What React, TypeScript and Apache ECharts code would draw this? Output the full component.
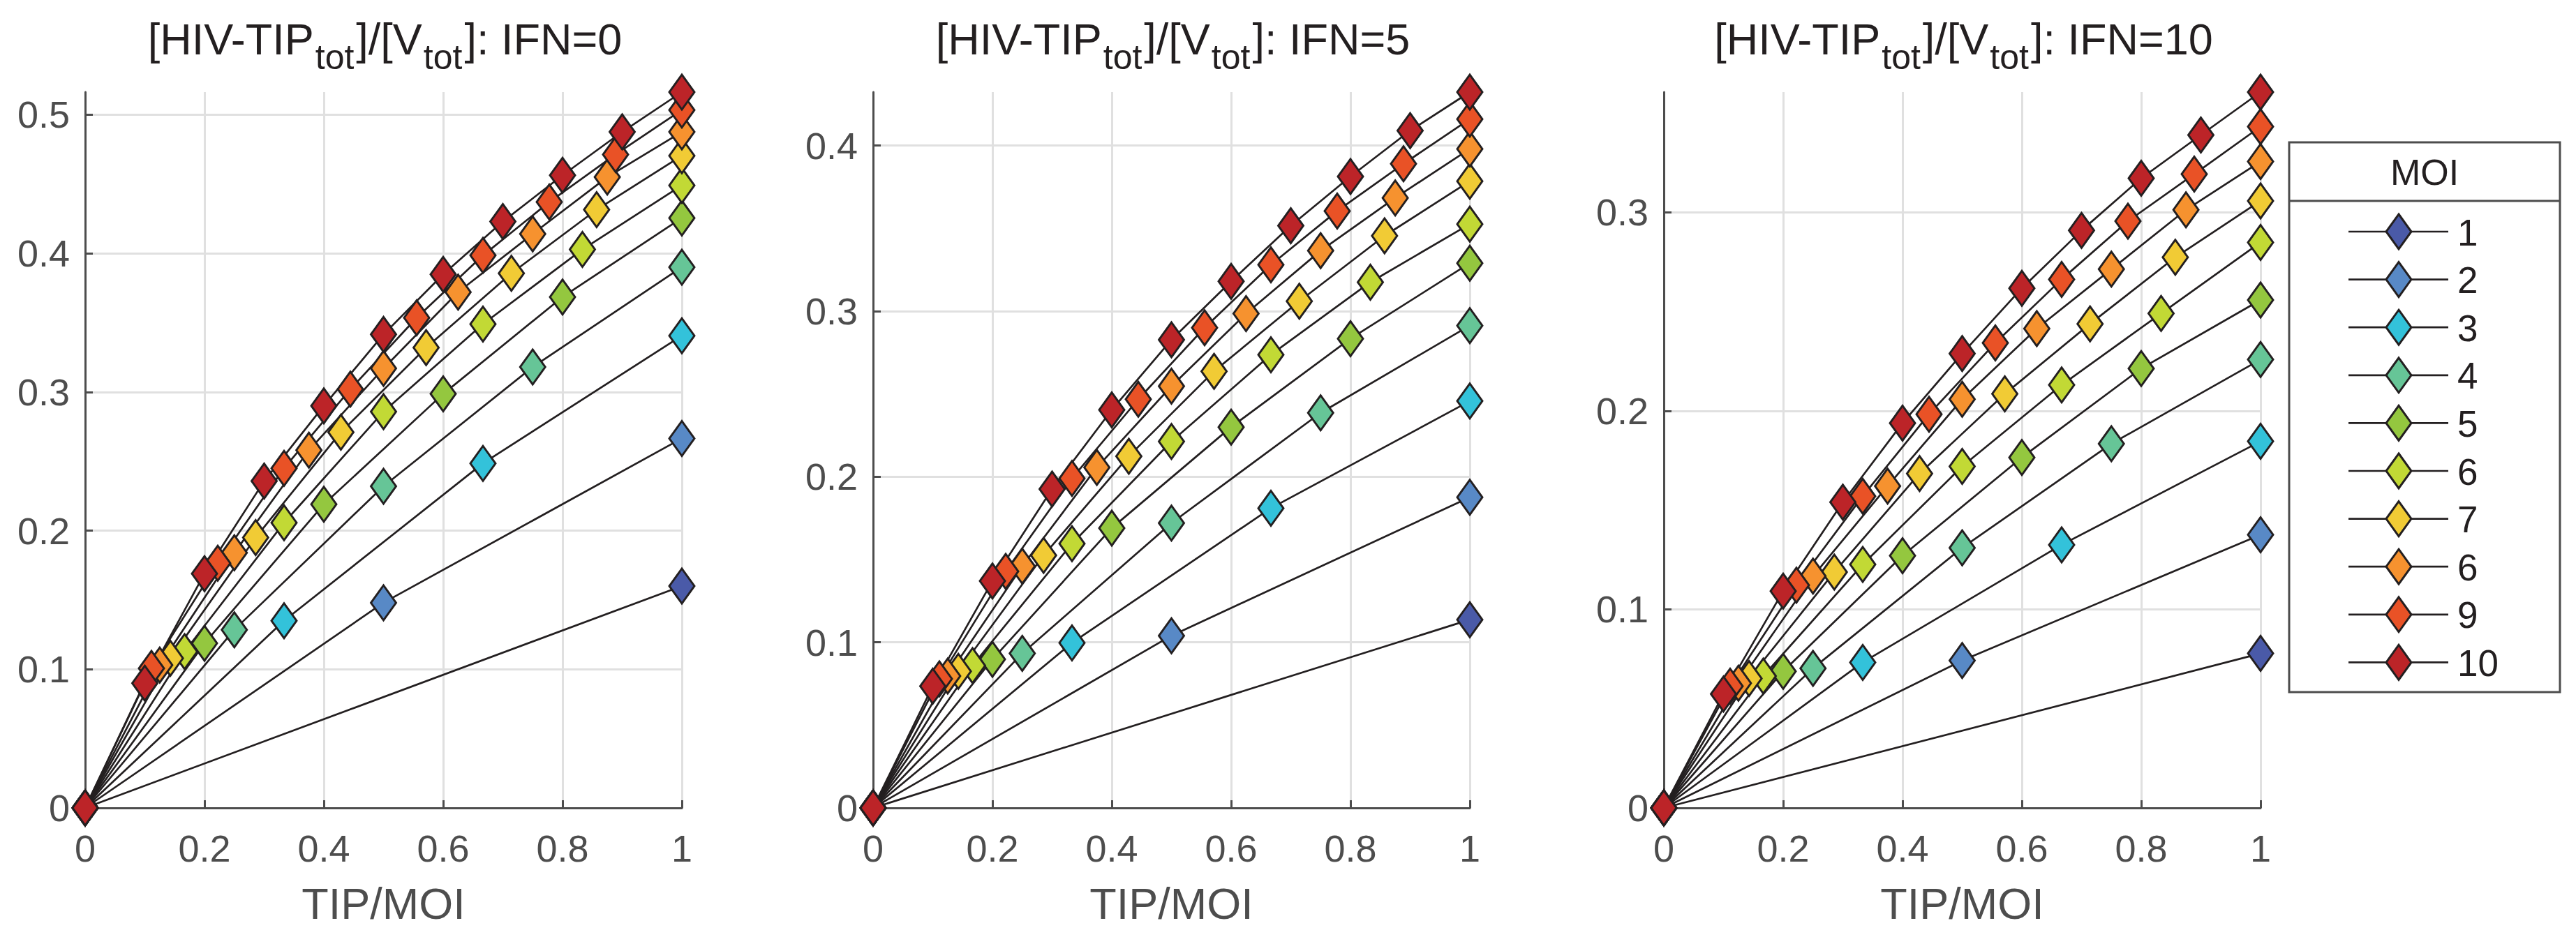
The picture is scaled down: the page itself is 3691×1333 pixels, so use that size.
import React, { useEffect, useRef } from "react";
import * as echarts from "echarts";

// ---------- data ----------
const moiValues = [1, 2, 3, 4, 5, 6, 7, 8, 9, 10];
const legendLabels = ["1", "2", "3", "4", "5", "6", "7", "6", "9", "10"];
const seriesColors = [
  "#4A5AA8", "#5889C6", "#33C2DA", "#66C597", "#94C73F",
  "#C2D935", "#F1CB35", "#F6922F", "#E95226", "#BC2428",
];
const panelIFN = ["IFN=0", "IFN=5", "IFN=10"];
const xAxisName = "TIP/MOI";
const legendTitle = "MOI";

// y values at TIP/MOI = k/MOI, k = 0..MOI
const ifn0: number[][] = [
  [0, 0.160],
  [0, 0.148, 0.2665],
  [0, 0.135, 0.2485, 0.3406],
  [0, 0.1285, 0.232, 0.318, 0.390],
  [0, 0.1187, 0.219, 0.2986, 0.3685, 0.4255],
  [0, 0.1127, 0.2057, 0.2858, 0.349, 0.4028, 0.449],
  [0, 0.108, 0.195, 0.271, 0.332, 0.3856, 0.4315, 0.4704],
  [0, 0.103, 0.184, 0.258, 0.317, 0.372, 0.414, 0.455, 0.4876],
  [0, 0.1007, 0.1765, 0.245, 0.302, 0.3535, 0.3985, 0.437, 0.4713, 0.5034],
  [0, 0.090, 0.169, 0.2357, 0.290, 0.3415, 0.3848, 0.4229, 0.4563, 0.4876, 0.5163],
];
const ifn5: number[][] = [
  [0, 0.1137],
  [0, 0.104, 0.1876],
  [0, 0.0997, 0.181, 0.2457],
  [0, 0.0933, 0.172, 0.2386, 0.2913],
  [0, 0.0897, 0.169, 0.230, 0.2834, 0.329],
  [0, 0.086, 0.1596, 0.2213, 0.2737, 0.3175, 0.3526],
  [0, 0.0825, 0.1525, 0.2124, 0.2637, 0.306, 0.3455, 0.3785],
  [0, 0.0796, 0.146, 0.2056, 0.2547, 0.2985, 0.3365, 0.3684, 0.398],
  [0, 0.078, 0.1428, 0.199, 0.2468, 0.290, 0.328, 0.3605, 0.389, 0.416],
  [0, 0.0735, 0.137, 0.1926, 0.2404, 0.2827, 0.318, 0.3516, 0.3813, 0.409, 0.4323],
];
const ifn10: number[][] = [
  [0, 0.0778],
  [0, 0.0742, 0.1376],
  [0, 0.0733, 0.1325, 0.1846],
  [0, 0.0703, 0.131, 0.1834, 0.2258],
  [0, 0.0688, 0.127, 0.1765, 0.2213, 0.2558],
  [0, 0.0664, 0.1226, 0.172, 0.213, 0.249, 0.2848],
  [0, 0.0652, 0.1188, 0.1684, 0.2085, 0.2438, 0.2773, 0.3057],
  [0, 0.0628, 0.1167, 0.1621, 0.2058, 0.2414, 0.2713, 0.3012, 0.3255],
  [0, 0.0613, 0.1122, 0.157, 0.1983, 0.2342, 0.2662, 0.2955, 0.3192, 0.3431],
  [0, 0.0574, 0.1092, 0.154, 0.1938, 0.2288, 0.2617, 0.2908, 0.3171, 0.3389, 0.3605],
];
const panels = [ifn0, ifn5, ifn10];

// ---------- style / layout ----------
const FONT = '"Liberation Sans", Arial, Helvetica, sans-serif';
const AXIS_COLOR = "#4D4D4D";
const INK = "#231F20";
const GRID_COLOR = "#E0E0E0";
const GRID_LEFTS = [122, 1251, 2384];
const GRID_TOP = 132;
const GRID_W = 855;
const GRID_H = 1026;

function buildOption() {
  const grids = GRID_LEFTS.map((left) => ({
    left,
    top: GRID_TOP,
    width: GRID_W,
    height: GRID_H,
    containLabel: false,
    outerBoundsMode: "none",
  }));

  const axisCommon = {
    axisLine: { show: true, onZero: false, lineStyle: { color: AXIS_COLOR, width: 3 } },
    axisTick: { show: true, inside: true, length: 11, lineStyle: { color: AXIS_COLOR, width: 3 } },
  };

  const xAxes = panels.map((_, p) => ({
    type: "value",
    gridIndex: p,
    min: 0,
    max: 1,
    interval: 0.2,
    name: xAxisName,
    nameLocation: "middle",
    nameGap: 105,
    nameTextStyle: { color: AXIS_COLOR, fontSize: 63, fontFamily: FONT },
    ...axisCommon,
    axisLabel: { color: AXIS_COLOR, fontSize: 54, fontFamily: FONT, margin: 31 },
    splitLine: { show: true, lineStyle: { color: GRID_COLOR, width: 3 } },
  }));

  const yAxes = panels.map((data, p) => {
    const yMax = Math.max(...data.map((s) => Math.max(...s)));
    return {
      type: "value",
      gridIndex: p,
      min: 0,
      max: yMax,
      interval: 0.1,
      ...axisCommon,
      axisLabel: {
        color: AXIS_COLOR,
        fontSize: 54,
        fontFamily: FONT,
        margin: 22,
        showMaxLabel: false,
      },
      splitLine: { show: true, showMaxLine: false, lineStyle: { color: GRID_COLOR, width: 3 } },
    };
  });

  const series: any[] = [];
  panels.forEach((data, p) => {
    data.forEach((ys, i) => {
      const m = moiValues[i];
      series.push({
        type: "line",
        name: String(m),
        xAxisIndex: p,
        yAxisIndex: p,
        data: ys.map((y, k) => [k / m, y]),
        symbol: "diamond",
        symbolSize: [36, 50],
        showAllSymbol: true,
        clip: false,
        silent: true,
        lineStyle: { color: INK, width: 2.7 },
        itemStyle: { color: seriesColors[i], borderColor: INK, borderWidth: 3 },
        emphasis: { disabled: true },
      });
    });
  });

  const titles = panelIFN.map((ifn, p) => ({
    text: `{m|[HIV-TIP}{s|tot}{m|]/[V}{s|tot}{m|]: ${ifn}}`,
    left: GRID_LEFTS[p] + GRID_W / 2 + 2,
    top: 5,
    padding: 0,
    textAlign: "center",
    textVerticalAlign: "top",
    textStyle: {
      fontWeight: "normal",
      fontFamily: FONT,
      color: INK,
      rich: {
        m: { fontSize: 63, fontWeight: "normal", fontFamily: FONT, color: INK, lineHeight: 63 },
        s: {
          fontSize: 50,
          fontWeight: "normal",
          fontFamily: FONT,
          color: INK,
          padding: [52, 3, 0, 2],
        },
      },
    },
  }));

  // legend drawn with graphic elements
  const LX = 3280;
  const LY = 204;
  const LW = 388;
  const LH = 788;
  const rowY0 = 332;
  const rowStep = 68.6;
  const lineX1 = 3365;
  const lineX2 = 3508;
  const diaX = 3437;
  const graphics: any[] = [
    {
      type: "rect",
      shape: { x: LX, y: LY, width: LW, height: LH },
      style: { fill: "#FFFFFF", stroke: AXIS_COLOR, lineWidth: 3 },
      z: 10,
    },
    {
      type: "line",
      shape: { x1: LX, y1: 288, x2: LX + LW, y2: 288 },
      style: { stroke: AXIS_COLOR, lineWidth: 3 },
      z: 11,
    },
    {
      type: "text",
      x: LX + LW / 2,
      y: 247,
      style: {
        text: legendTitle,
        fill: INK,
        fontSize: 52,
        fontFamily: FONT,
        font: `52px ${FONT}`,
        align: "center",
        textAlign: "center",
        verticalAlign: "middle",
        textVerticalAlign: "middle",
      },
      z: 11,
    },
  ];
  legendLabels.forEach((label, i) => {
    const cy = rowY0 + i * rowStep;
    graphics.push({
      type: "line",
      shape: { x1: lineX1, y1: cy, x2: lineX2, y2: cy },
      style: { stroke: INK, lineWidth: 2.7 },
      z: 11,
    });
    graphics.push({
      type: "polygon",
      shape: {
        points: [
          [diaX, cy - 25],
          [diaX + 18, cy],
          [diaX, cy + 25],
          [diaX - 18, cy],
        ],
      },
      style: { fill: seriesColors[i], stroke: INK, lineWidth: 3 },
      z: 12,
    });
    graphics.push({
      type: "text",
      x: 3521,
      y: cy + 1,
      style: {
        text: label,
        fill: INK,
        fontSize: 53,
        fontFamily: FONT,
        font: `53px ${FONT}`,
        align: "left",
        textAlign: "left",
        verticalAlign: "middle",
        textVerticalAlign: "middle",
      },
      z: 12,
    });
  });

  return {
    animation: false,
    backgroundColor: "#FFFFFF",
    textStyle: { fontFamily: FONT },
    title: titles,
    grid: grids,
    xAxis: xAxes,
    yAxis: yAxes,
    series,
    graphic: { elements: graphics },
  };
}

export default function App() {
  const ref = useRef<HTMLDivElement>(null);
  useEffect(() => {
    document.body.style.margin = "0";
    document.body.style.overflow = "hidden";
    if (!ref.current) return;
    const chart = echarts.init(ref.current, null, { renderer: "svg" });
    chart.setOption(buildOption() as any);
    return () => chart.dispose();
  }, []);
  return <div ref={ref} style={{ width: 3691, height: 1333 }} />;
}
